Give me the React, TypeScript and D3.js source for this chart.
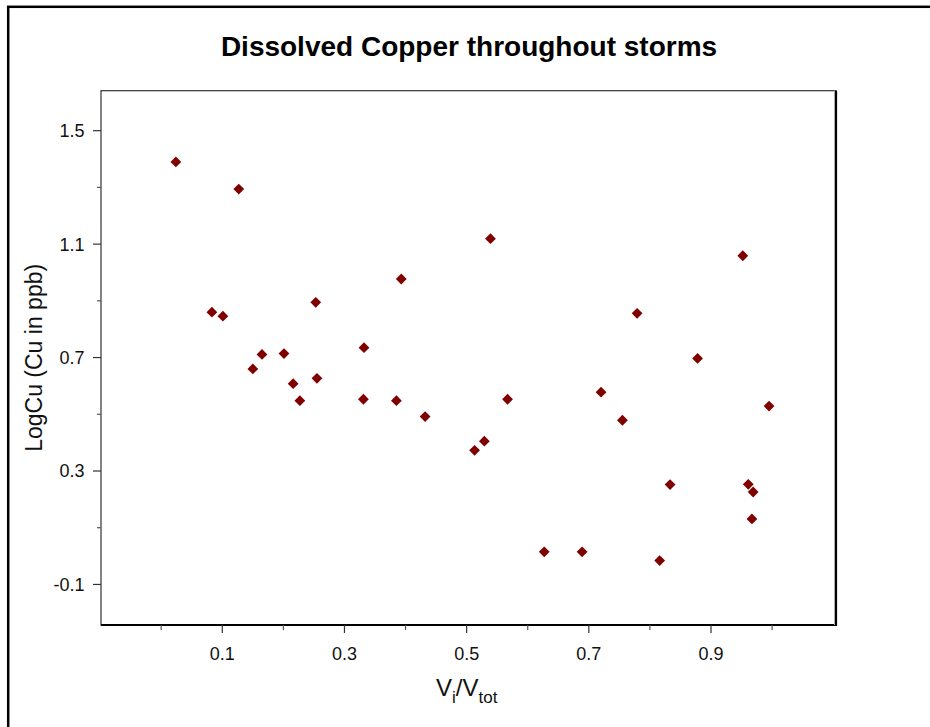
import React from "react";
import * as d3 from "d3";

const xValues = [
  0.024, 0.127, 0.083, 0.101, 0.253, 0.165, 0.201, 0.150, 0.216, 0.255, 0.227,
  0.539, 0.393, 0.332, 0.331, 0.385, 0.432, 0.567, 0.529, 0.513,
  0.755, 0.833, 0.627, 0.689, 0.816, 0.952, 0.779, 0.878, 0.720, 0.995,
  0.961, 0.969, 0.967,
];
const yValues = [
  1.390, 1.294, 0.860, 0.846, 0.895, 0.711, 0.714, 0.660, 0.608, 0.627, 0.548,
  1.119, 0.977, 0.735, 0.553, 0.548, 0.492, 0.553, 0.405, 0.373,
  0.479, 0.252, 0.015, 0.015, -0.016, 1.059, 0.856, 0.697, 0.578, 0.529,
  0.253, 0.226, 0.131,
];
const xMajorTicks = [0.1, 0.3, 0.5, 0.7, 0.9];
const xMinorTicks = [0.0, 0.2, 0.4, 0.6, 0.8, 1.0];
const yMajorTicks = [1.5, 1.1, 0.7, 0.3, -0.1];
const yMinorTicks = [1.3, 0.9, 0.5, 0.1];
const title = "Dissolved Copper throughout storms";
const yTitle = "LogCu (Cu in ppb)";

const FONT = "Arial, 'Liberation Sans', sans-serif";

export default function App() {
  const left = 101, right = 836, top = 90.7, bottom = 625;
  const x = d3.scaleLinear().domain([-0.1, 1.1046]).range([100.1, 836]);
  const y = d3.scaleLinear().domain([-0.243, 1.641]).range([625, 90.7]);
  const diamond = d3.symbol().type(d3.symbolSquare).size(58)();
  const pts = xValues.map((v, i) => ({ x: v, y: yValues[i] }));

  return (
    <svg
      width={930}
      height={727}
      style={{ position: "absolute", left: 0, top: 0, background: "#fff" }}
      fontFamily={FONT}
    >
      <rect x={0} y={0} width={930} height={727} fill="#fff" />
      {/* outer frame */}
      <rect x={8.2} y={6.8} width={1200} height={1200} fill="none" stroke="#000" strokeWidth={2.5} />
      {/* title */}
      <text x={469} y={55.5} textAnchor="middle" fontSize={28} fontWeight="bold" fill="#000">
        {title}
      </text>
      {/* plot frame */}
      <rect x={left} y={top} width={right - left} height={bottom - top} fill="#fff" stroke="#333" strokeWidth={1.2} />
      <line x1={left} x2={right + 1} y1={bottom} y2={bottom} stroke="#000" strokeWidth={2.2} />
      <line x1={right} x2={right} y1={top} y2={bottom + 1} stroke="#000" strokeWidth={2.2} />
      <line x1={right - 1.5} x2={right - 1.5} y1={top} y2={bottom} stroke="#aaa" strokeWidth={1} />

      {/* y ticks */}
      {yMajorTicks.map((t) => (
        <g key={"ym" + t}>
          <line x1={93} x2={left} y1={y(t)} y2={y(t)} stroke="#333" strokeWidth={1.2} />
          <text x={84.5} y={y(t)} dy="0.36em" textAnchor="end" fontSize={18} fill="#111">
            {t.toFixed(1)}
          </text>
        </g>
      ))}
      {yMinorTicks.map((t) => (
        <line key={"yn" + t} x1={97} x2={left} y1={y(t)} y2={y(t)} stroke="#555" strokeWidth={1.2} />
      ))}

      {/* x ticks */}
      {xMajorTicks.map((t) => (
        <g key={"xm" + t}>
          <line x1={x(t)} x2={x(t)} y1={bottom} y2={bottom + 8} stroke="#333" strokeWidth={1.2} />
          <text x={x(t)} y={660} textAnchor="middle" fontSize={18} fill="#111">
            {t.toFixed(1)}
          </text>
        </g>
      ))}
      {xMinorTicks.map((t) => (
        <line key={"xn" + t} x1={x(t)} x2={x(t)} y1={bottom} y2={bottom + 5} stroke="#555" strokeWidth={1.2} />
      ))}

      {/* axis titles */}
      <text x={436} y={696} fontSize={24} fill="#111">
        V
        <tspan fontSize={17} dy={7}>i</tspan>
        <tspan fontSize={24} dy={-7}>/V</tspan>
        <tspan fontSize={17} dy={7}>tot</tspan>
      </text>
      <text
        transform={`translate(42,${(top + bottom) / 2}) rotate(-90)`}
        textAnchor="middle"
        fontSize={23}
        fill="#111"
      >
        {yTitle}
      </text>

      {/* points */}
      {pts.map((p, i) => (
        <path
          key={i}
          d={diamond || ""}
          transform={`translate(${x(p.x)},${y(p.y)}) rotate(45)`}
          fill="#800000"
        />
      ))}
    </svg>
  );
}
